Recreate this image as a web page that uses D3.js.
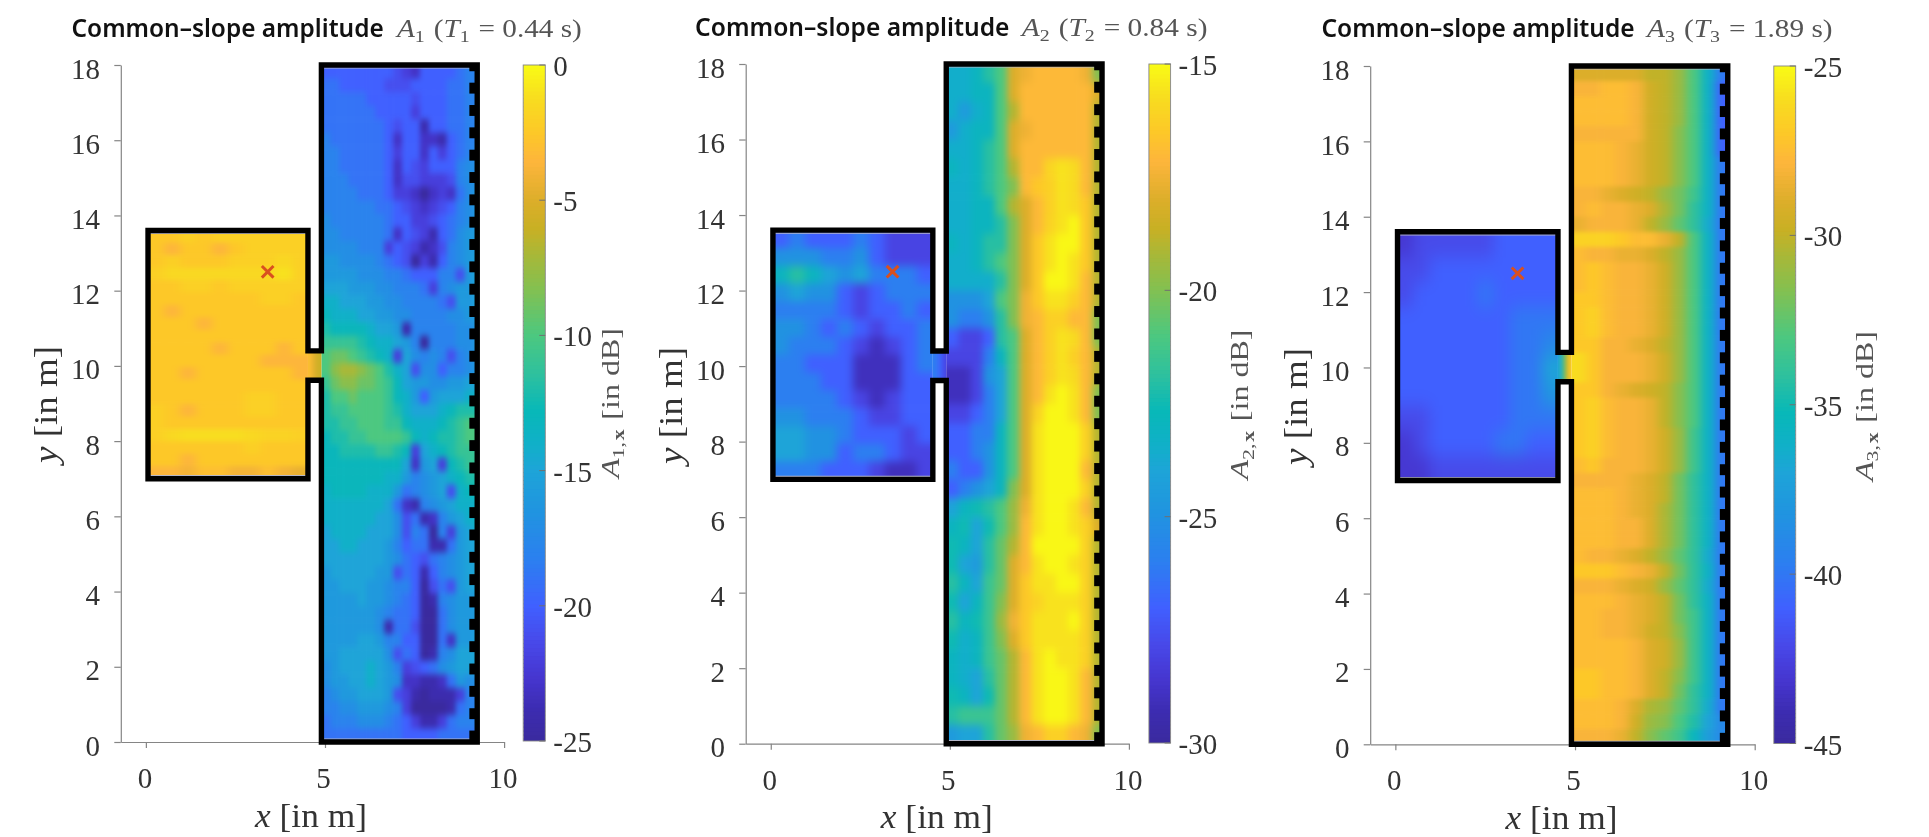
<!DOCTYPE html>
<meta charset="utf-8">
<script src="https://d3js.org/d3.v7.min.js"></script>
<style>
  html, body { margin: 0; padding: 0; background: #fff; overflow: hidden; }
  svg { display: block; filter: blur(0.45px); }
</style>
<div id="chart"></div>
<script>
// Tick labels
const yTicks = [0, 2, 4, 6, 8, 10, 12, 14, 16, 18]
const xTicks = [0, 5, 10]
const barTicks = [[0, -5, -10, -15, -20, -25], [-15, -20, -25, -30], [-25, -30, -35, -40, -45]]
const barRanges = [[-25, 0], [-30, -15], [-45, -25]]
const slopeTimes = ["0.44", "0.84", "1.89"]
const sourceX = [3.4]
const sourceY = [12.5]

// Amplitudes in dB. Rows run from top to bottom of the room.
const bigRoom1 = [
  [-20,-20,-20,-20,-20,-20,-20,-20,-21,-22,-23,-20,-20,-20,-20,-19,-18,-18],
  [-19,-19,-20,-20,-20,-20,-20,-21,-21,-21,-20,-20,-20,-20,-19,-19,-18,-18],
  [-19,-19,-19,-19,-19,-20,-20,-20,-20,-20,-21,-20,-20,-20,-19,-19,-18,-18],
  [-19,-19,-19,-19,-19,-19,-20,-20,-20,-20,-22,-20,-20,-20,-19,-19,-18,-18],
  [-19,-19,-19,-19,-19,-19,-19,-20,-21,-20,-20,-24,-20,-20,-19,-19,-18,-18],
  [-18,-19,-19,-19,-19,-19,-19,-20,-23,-20,-20,-23,-23,-24,-20,-19,-18,-18],
  [-18,-18,-19,-19,-19,-19,-19,-20,-22,-20,-20,-23,-20,-22,-20,-19,-18,-17],
  [-18,-18,-19,-19,-19,-19,-19,-20,-23,-20,-21,-22,-20,-20,-20,-18,-17,-17],
  [-18,-18,-18,-19,-19,-19,-19,-20,-23,-21,-21,-22,-22,-22,-21,-18,-17,-17],
  [-18,-18,-18,-18,-19,-19,-19,-20,-22,-22,-23,-25,-23,-22,-23,-19,-17,-16],
  [-18,-18,-18,-18,-18,-18,-19,-19,-20,-21,-22,-23,-22,-21,-20,-18,-17,-16],
  [-17,-18,-18,-18,-18,-18,-18,-19,-20,-20,-22,-22,-21,-20,-19,-18,-17,-16],
  [-17,-17,-18,-18,-18,-18,-18,-19,-23,-20,-21,-22,-24,-20,-19,-17,-16,-16],
  [-17,-17,-17,-17,-18,-18,-18,-22,-20,-21,-22,-24,-23,-21,-18,-17,-16,-16],
  [-16,-16,-17,-17,-17,-17,-18,-19,-20,-21,-25,-22,-24,-20,-18,-17,-16,-15],
  [-16,-16,-16,-16,-17,-17,-17,-18,-18,-19,-20,-20,-20,-18,-18,-21,-16,-15],
  [-15,-15,-15,-16,-16,-16,-17,-17,-18,-18,-18,-19,-22,-18,-17,-16,-16,-15],
  [-14,-14,-15,-15,-15,-16,-16,-17,-17,-18,-18,-18,-18,-19,-21,-16,-16,-15],
  [-13,-14,-14,-14,-15,-15,-16,-16,-17,-17,-18,-18,-18,-18,-17,-17,-16,-16],
  [-12,-13,-13,-13,-13,-14,-15,-15,-16,-24,-18,-18,-18,-18,-18,-17,-17,-16],
  [-11,-11,-11,-11,-12,-13,-14,-14,-15,-16,-18,-25,-18,-18,-18,-17,-17,-16],
  [-10,-9,-9,-10,-11,-12,-13,-14,-22,-15,-17,-18,-17,-18,-21,-18,-17,-16],
  [-10,-8,-7,-7,-8,-9,-10,-12,-14,-15,-21,-17,-17,-20,-18,-18,-17,-16],
  [-11,-9,-8,-8,-9,-9,-10,-11,-13,-15,-16,-16,-17,-17,-16,-16,-15,-15],
  [-12,-10,-10,-9,-10,-10,-10,-11,-13,-14,-16,-20,-16,-15,-15,-15,-14,-14],
  [-12,-11,-11,-10,-10,-10,-10,-11,-12,-14,-15,-15,-15,-14,-13,-12,-12,-12],
  [-12,-12,-11,-11,-10,-10,-10,-11,-11,-13,-14,-14,-14,-13,-12,-11,-10,-10],
  [-13,-12,-12,-11,-11,-10,-10,-10,-10,-11,-13,-14,-13,-12,-12,-11,-10,-10],
  [-13,-13,-12,-12,-12,-12,-11,-11,-12,-13,-22,-15,-14,-13,-12,-11,-11,-11],
  [-13,-13,-13,-13,-13,-13,-13,-13,-13,-15,-23,-16,-15,-22,-13,-12,-11,-11],
  [-13,-13,-13,-13,-13,-13,-13,-14,-14,-16,-18,-17,-16,-15,-14,-13,-12,-12],
  [-14,-13,-13,-13,-13,-14,-14,-14,-16,-19,-18,-17,-16,-15,-21,-14,-13,-13],
  [-14,-14,-14,-14,-14,-14,-14,-15,-19,-23,-24,-18,-17,-16,-15,-14,-14,-14],
  [-14,-14,-14,-14,-14,-14,-15,-15,-17,-21,-19,-24,-23,-18,-16,-15,-14,-14],
  [-15,-14,-14,-14,-14,-15,-15,-15,-17,-21,-18,-19,-25,-18,-22,-16,-15,-14],
  [-15,-15,-14,-14,-15,-15,-15,-16,-18,-20,-19,-19,-24,-24,-19,-16,-15,-15],
  [-15,-15,-15,-15,-15,-15,-15,-16,-17,-19,-20,-21,-19,-18,-17,-16,-15,-15],
  [-16,-15,-15,-15,-15,-15,-16,-16,-21,-19,-20,-24,-20,-18,-17,-16,-15,-15],
  [-16,-16,-15,-15,-15,-16,-16,-17,-18,-18,-20,-25,-21,-19,-21,-16,-15,-15],
  [-16,-16,-16,-16,-15,-16,-16,-17,-18,-19,-20,-25,-24,-18,-17,-16,-16,-16],
  [-16,-16,-16,-16,-16,-16,-17,-18,-19,-19,-20,-25,-25,-19,-17,-16,-16,-16],
  [-16,-16,-16,-16,-16,-16,-17,-24,-19,-19,-21,-25,-25,-19,-17,-16,-16,-16],
  [-16,-16,-16,-16,-15,-15,-16,-18,-18,-20,-20,-25,-25,-19,-23,-16,-16,-15],
  [-16,-16,-15,-15,-15,-15,-15,-17,-21,-19,-20,-25,-24,-18,-17,-15,-15,-15],
  [-17,-16,-15,-15,-15,-14,-15,-16,-18,-22,-21,-20,-19,-17,-16,-15,-15,-15],
  [-17,-16,-16,-15,-15,-14,-15,-16,-17,-23,-23,-24,-24,-23,-19,-16,-17,-17],
  [-18,-17,-16,-16,-15,-15,-15,-16,-21,-22,-24,-25,-24,-24,-24,-22,-18,-18],
  [-18,-18,-17,-17,-16,-16,-16,-17,-18,-22,-25,-25,-25,-25,-24,-19,-18,-18],
  [-19,-18,-18,-18,-17,-17,-17,-18,-19,-20,-22,-24,-24,-22,-19,-18,-18,-18],
  [-19,-19,-19,-19,-19,-19,-19,-19,-19,-20,-20,-20,-20,-19,-19,-19,-19,-19]
]
const smallRoom1 = [
  [-2.5,-2.5,-2,-2.5,-2,-2,-2,-2,-2,-2],
  [-2.5,-3.5,-2.5,-2.5,-3.5,-2.5,-2,-2,-2,-2],
  [-2.5,-2,-2.5,-2.5,-2.5,-2,-2,-2,-1.5,-2],
  [-2,-1.5,-1.5,-1.5,-1.5,-1.5,-1.5,-1.5,-1,-2],
  [-2.5,-2.5,-2,-2,-2.5,-2,-2,-2,-2,-2],
  [-2.5,-2.5,-2.5,-2.5,-2.5,-2.5,-2.5,-2,-2,-2.5],
  [-2.5,-3.5,-2.5,-2.5,-2.5,-2.5,-2.5,-2.5,-2.5,-2.5],
  [-2.5,-2.5,-2.5,-3.5,-2.5,-2.5,-2.5,-2.5,-2.5,-2.5],
  [-2.5,-2.5,-2.5,-2.5,-2.5,-2.5,-2.5,-2.5,-2.5,-2.5],
  [-2.5,-2.5,-2.5,-2.5,-3.5,-2.5,-2.5,-2.5,-3.5,-2.5],
  [-2.5,-2.5,-2.5,-2.5,-2.5,-2.5,-2.5,-3.5,-3.5,-3.5],
  [-2.5,-2.5,-3.5,-2.5,-2.5,-2.5,-2.5,-2.5,-2.5,-3.5],
  [-2.5,-2.5,-2.5,-2.5,-2.5,-2.5,-2.5,-2.5,-2.5,-2.5],
  [-2.5,-2.5,-2.5,-2.5,-2.5,-2.5,-2,-2,-2.5,-2.5],
  [-2,-2.5,-3.5,-2.5,-2.5,-2.5,-2,-2,-2.5,-2.5],
  [-2,-2.5,-2.5,-2.5,-2.5,-2.5,-2.5,-2.5,-2.5,-2.5],
  [-2,-1.5,-1.2,-1.2,-1.2,-1.2,-1.5,-1.8,-1.8,-2],
  [-2.5,-2.5,-2.5,-2.5,-2.5,-2.5,-2,-2.5,-2.5,-2.5],
  [-2.5,-2.5,-3.5,-2.5,-2.5,-2.5,-2.5,-2.5,-2.5,-2.5],
  [-3.5,-3.5,-4,-3,-3,-4,-4,-3,-4,-4.5]
]
const door1 = [[-3, -4.5, -5.5, -6]]

const bigRoom2 = [
  [-23.5,-23.5,-23,-22,-21,-18,-17.5,-17,-17,-17,-17,-17.5,-20],
  [-23.5,-23.5,-23,-23,-21,-18,-17,-17,-17,-17,-17,-17,-18],
  [-23.5,-24.5,-23.5,-23,-21,-19,-17,-17,-17,-17,-17,-17,-19],
  [-24.5,-23.5,-23,-23,-21,-18,-17.5,-17,-17,-17,-17,-17,-19],
  [-23.5,-23.5,-23,-22,-21,-18,-17,-17,-17,-17,-17,-17,-19],
  [-23,-23.5,-23,-22,-21,-19,-17,-17,-16,-15.6,-15.8,-17,-19],
  [-23.5,-23.5,-23,-22,-21,-20,-17,-16.5,-16.2,-15.6,-15.8,-17,-19],
  [-23.5,-23.5,-23,-23,-21,-19,-18,-17,-16.2,-15.6,-15.8,-16.5,-19],
  [-23.5,-23.5,-23,-23,-22,-20,-18,-17,-16.1,-15.6,-15.1,-16.5,-19],
  [-23,-23.5,-23,-22,-22,-20,-18,-16.5,-15.6,-15.1,-15.1,-16.5,-19],
  [-23.5,-23.5,-23,-22,-21,-20,-18,-16.5,-15.6,-15.1,-15.6,-16.5,-19],
  [-23.5,-23.5,-23.5,-23.5,-22,-20,-18,-16.5,-15.1,-15.1,-15.6,-17,-19],
  [-25,-25,-25,-24,-21,-20,-17.5,-16.5,-15.6,-15.6,-16.2,-17,-19],
  [-25,-26,-26,-25,-22,-20,-17.5,-17,-16.2,-16.2,-17,-17,-20],
  [-27,-28,-28,-27,-22,-21,-18,-17,-16.2,-15.6,-15.8,-17,-20],
  [-28,-28,-28,-26,-23,-21,-18,-17,-16.2,-15.6,-16.2,-17,-19],
  [-29,-29,-28,-25,-24,-21,-18,-17,-16.2,-15.6,-15.8,-17,-19],
  [-29,-29,-28,-26,-24,-21,-18,-17,-15.6,-15.1,-15.6,-17,-20],
  [-28,-28,-27,-26,-24,-21,-18,-16.1,-15.1,-15.1,-15.6,-17,-20],
  [-27,-27,-26,-26,-23,-21,-18,-15.6,-15.1,-15.1,-15.1,-16.2,-19],
  [-27,-27,-26,-25,-23,-21,-18,-15.6,-15.1,-15.1,-15.1,-16.2,-19],
  [-26,-27,-27,-25,-23,-21,-18,-15.6,-15.1,-15.1,-15.1,-17,-19],
  [-27,-26,-25,-24,-23,-20,-18,-15.6,-15.1,-15.1,-15.1,-16.2,-19],
  [-24,-23,-22.5,-22,-21,-19.5,-17.5,-15.6,-15.1,-15.1,-15.6,-17,-19],
  [-23,-22.5,-24,-22.5,-21,-19.5,-17,-15.6,-15.1,-15.1,-15.6,-16.2,-18],
  [-22.5,-23,-24,-22,-20.5,-19,-17,-15.1,-15.1,-15.1,-15.1,-16.2,-19],
  [-22.5,-24,-24.5,-22,-20.5,-18,-17,-15.6,-15.1,-15.1,-15.6,-16.2,-19],
  [-22,-23,-24,-21.5,-20.5,-18,-16.5,-15.6,-15.6,-15.1,-15.1,-16.2,-19],
  [-22.5,-24,-23,-21.5,-20,-18,-16.5,-16.1,-15.6,-15.6,-15.6,-16.2,-19],
  [-22,-23,-22.5,-21.5,-19.5,-17.5,-16.5,-15.6,-15.6,-15.6,-15.1,-16.2,-19],
  [-22.5,-23.5,-23,-21.5,-20,-18,-16.5,-15.6,-15.6,-15.6,-15.6,-16.2,-19],
  [-23,-23.5,-23,-21.5,-20.5,-19,-17,-15.6,-15.1,-15.6,-15.6,-16.2,-19],
  [-23,-23.5,-24,-22,-20.5,-19,-17,-15.6,-15.1,-15.1,-15.6,-17,-19],
  [-22.5,-23,-24,-22.5,-20.5,-19,-17,-15.6,-15.1,-15.1,-15.6,-17,-19],
  [-22,-21.5,-21.5,-21.5,-20.5,-19,-17,-15.6,-15.1,-15.1,-15.6,-17,-19],
  [-24.5,-24,-24,-22,-20.5,-19.5,-17.5,-17,-16.2,-16.2,-17,-17.5,-20]
]
const smallRoom2 = [
  [-27,-26,-27,-27,-27,-26,-27,-28,-28,-28],
  [-25,-25,-25,-26,-26,-25,-27,-28,-28,-28],
  [-23,-22,-23,-24,-25,-24,-26,-26,-26,-27],
  [-25,-24,-25,-25,-27,-28,-27,-26,-26,-26],
  [-26,-26,-26,-26,-27,-28,-27,-27,-26,-27],
  [-25,-25,-26,-27,-26,-27,-28,-27,-27,-26],
  [-25,-26,-26,-26,-27,-28,-29,-28,-27,-26],
  [-26,-26,-27,-27,-27,-29,-29,-29,-27,-26],
  [-26,-26,-26,-27,-27,-29,-29,-29,-27,-27],
  [-26,-26,-26,-26,-27,-28,-29,-28,-27,-27],
  [-25,-25,-26,-26,-26,-27,-28,-28,-27,-27],
  [-24,-24,-25,-25,-26,-27,-27,-27,-28,-27],
  [-24,-24,-25,-25,-27,-26,-26,-27,-28,-28],
  [-26,-26,-26,-27,-27,-27,-28,-29,-29,-28]
]
const door2 = [[-26, -26.5, -27, -28]]

const bigRoom3 = [
  [-29,-29,-29,-29,-29,-30,-30,-31,-33,-36,-40],
  [-28,-28,-27.5,-27.5,-28,-29.5,-30,-31,-33,-36,-41],
  [-27.5,-27.5,-27.5,-27.5,-28,-29.5,-30,-31,-33,-36,-41],
  [-27.5,-27.5,-27.5,-27.5,-28,-29.5,-30,-31,-33,-36,-41],
  [-28,-28,-28,-28,-28,-29.5,-30,-31.5,-33,-36,-41],
  [-27.5,-27.5,-27.5,-28,-28.5,-29.5,-30,-31.5,-33,-36,-41],
  [-27.5,-27.5,-27.5,-28,-28.5,-29.5,-30,-31.5,-33,-36,-40],
  [-27.5,-27.5,-27.5,-28,-28.5,-29.5,-30,-31.5,-33,-36,-40],
  [-28,-28,-28.5,-29,-29.5,-30,-31,-32,-33.5,-36,-40],
  [-28,-27.5,-28,-28,-28.5,-29,-30.5,-32,-34,-36,-40],
  [-28.5,-28,-28,-28,-28.5,-30,-31,-32.5,-34,-36.5,-40],
  [-26.5,-26.5,-26.5,-27,-27.5,-27.5,-28.5,-30,-33,-36,-40],
  [-27.5,-28,-28,-28.5,-28.5,-29,-30,-31,-33,-36,-40],
  [-27.5,-27,-27.5,-28,-28,-28.5,-29.5,-31,-33,-36,-40],
  [-27.5,-27,-27.5,-28,-28,-28.5,-29.5,-31,-33,-36,-40],
  [-27,-27,-27.5,-28,-28,-28.5,-29.5,-31,-33,-36,-40],
  [-27,-26.5,-27.5,-28,-28,-28.5,-29.5,-31,-33,-36,-40],
  [-27,-26.5,-27.5,-28,-28,-28.5,-29.5,-31,-33,-36,-40],
  [-27,-27,-28,-28,-28.5,-29,-30,-31,-33,-36,-40],
  [-26,-27,-28,-28,-28,-28.5,-29.5,-31,-33,-36,-40],
  [-26,-27,-28,-28,-28,-28.5,-29.5,-31,-33,-36,-40],
  [-27,-27,-28,-28.5,-29,-29.5,-30,-31.5,-33,-36,-40],
  [-27,-26.5,-27.5,-28,-28,-28.5,-30,-31.5,-33,-36,-40],
  [-27,-26.5,-27.5,-28,-28,-28.5,-30,-31.5,-33,-36,-40],
  [-27,-26.5,-27.5,-28,-28,-28.5,-29.5,-31,-33.5,-36,-40],
  [-27,-26.5,-27.5,-28,-28,-28.5,-29.5,-31,-33.5,-36,-40],
  [-27.5,-27,-28,-28,-28,-28.5,-29.5,-31,-33.5,-36,-40],
  [-28,-28,-28,-28,-28.5,-29,-30,-32,-34,-36,-40],
  [-27.5,-27.5,-27.5,-28,-28.5,-29,-30,-32,-34,-36,-40],
  [-27.5,-27.5,-27.5,-28,-28.5,-29,-30.5,-32,-34,-36,-40],
  [-27.5,-27.5,-27.5,-28,-28,-29,-30.5,-32,-34,-36,-40],
  [-27.5,-27.5,-27.5,-28,-28,-29,-30.5,-32,-34,-36,-40],
  [-27.5,-28,-28,-28.5,-29,-30,-31,-32.5,-34,-36.5,-40],
  [-27,-27,-27,-27.5,-28,-28.5,-30,-32,-34,-36,-40],
  [-28,-28,-28,-28.5,-29,-29.5,-31,-32.5,-34,-36.5,-40],
  [-27.5,-27.5,-27.5,-28,-28.5,-29,-30,-32,-34,-36,-40],
  [-27.5,-27.5,-28,-28,-28.5,-29,-30,-32,-33.5,-36,-40],
  [-27.5,-27.5,-28,-28,-28.5,-29.5,-30,-31.5,-33.5,-36,-40],
  [-27.5,-27.5,-27.5,-27.5,-28,-29,-29.5,-31,-33.5,-36,-40],
  [-27.5,-27.5,-27.5,-27.5,-28,-29,-29.5,-31,-33.5,-36,-40],
  [-27,-27,-27.5,-27.5,-28,-29,-30,-31.5,-33.5,-36,-40],
  [-27,-27,-27.5,-27.5,-28,-29,-30,-32,-34,-36,-40],
  [-27.5,-27.5,-27.5,-28,-29,-30.5,-31,-32.5,-34,-36.5,-40],
  [-27.5,-27.5,-27.5,-28,-29.5,-31,-31.5,-33,-34.5,-37,-39],
  [-28,-28,-28,-28.5,-30,-31.5,-32.5,-33.5,-35.5,-37.5,-39]
]
const smallRoom3 = [
  [-43,-42,-42,-42,-42,-42,-41,-41,-41,-41],
  [-42,-42,-41,-41,-41,-41,-41,-41,-41,-41],
  [-42,-41,-41,-41,-41,-40,-41,-41,-41,-41],
  [-41,-41,-41,-41,-41,-41,-41,-40,-40,-40],
  [-41,-41,-41,-41,-41,-41,-41,-40,-40,-39],
  [-41,-41,-41,-41,-41,-41,-41,-40,-40,-37],
  [-41,-41,-41,-41,-41,-41,-41,-40,-40,-38],
  [-42,-42,-41,-41,-41,-41,-41,-40,-40,-40],
  [-43,-42,-41,-41,-41,-41,-40,-40,-41,-41],
  [-43,-43,-42,-42,-42,-42,-42,-42,-42,-42]
]
const door3 = [[-37, -34, -30, -27]]

const bigRooms = [bigRoom1, bigRoom2, bigRoom3]
const smallRooms = [smallRoom1, smallRoom2, smallRoom3]
const doors = [door1, door2, door3]

// Room outline in metres
const outline = [[4.525,9.62],[4.525,7],[0.06,7],[0.06,13.6],[4.525,13.6],[4.525,10.4],[4.9,10.4],
                 [4.9,18],[9.25,18],[9.25,0],[4.9,0],[4.9,9.62]]

// Panel placement in page pixels
const panels = [
  {left: 120.8, right: 504.1, top: 65, bottom: 742, barL: 523.2, barR: 545.3, barB: 741, barLabel: 618.6, barMid: 403,
   yLab: 57, xLab: 311, xBase: 826.7, t1: 71.5, t1w: 312.3, t2: 396.9, t2w: 185, tBase: 37,
   gridEnd: 9.4, softBig: "2.8 3.3", softSmall: "5 2.5"},
  {left: 745.7, right: 1128.9, top: 64, bottom: 743.7, barL: 1148.9, barR: 1170.6, barB: 743, barLabel: 1248.4, barMid: 404.5,
   yLab: 682, xLab: 936.8, xBase: 828, t1: 695.1, t1w: 314.4, t2: 1021.8, t2w: 185.7, tBase: 36,
   gridEnd: 9.32, softBig: "3.6 4.4", softSmall: "4.5 4.5"},
  {left: 1370.2, right: 1754.7, top: 66, bottom: 744.3, barL: 1773.8, barR: 1795.7, barB: 743.5, barLabel: 1872.7, barMid: 406,
   yLab: 1307, xLab: 1561.5, xBase: 829, t1: 1321.4, t1w: 313.3, t2: 1647.1, t2w: 185.5, tBase: 37,
   gridEnd: 9.3, softBig: "5 2.2", softSmall: "7 9"}
]

// Colour map
const parula = d3.scaleLinear()
  .domain([0, 0.046, 0.095, 0.144, 0.2, 0.267, 0.34, 0.4, 0.44, 0.49, 0.54, 0.6, 0.67, 0.72, 0.758, 0.8, 0.857, 0.9, 0.95, 1])
  .range(["#3a2a9e", "#3c2cb0", "#4636d0", "#4848e8", "#4060ff", "#2c7ff0", "#2094e0", "#1ea4d8", "#10b0c8", "#08b8b8",
          "#2cc0a0", "#4cc880", "#84c050", "#a8b838", "#c8b024", "#dcae2a", "#fdb53c", "#fdc828", "#f8dc20", "#f9fb15"])
  .clamp(true)

const ink = "#333"
const serif = "'Liberation Serif', serif"

const svg = d3.select("#chart").append("svg").attr("width", 1929).attr("height", 837)
const defs = svg.append("defs")

// Writes runs of text into a text element, each run is [string, style]
function addRuns(text, runs, size) {
  runs.forEach(([s, style]) => {
    const t = text.append("tspan").text(s)
    if (style && style.includes("i")) t.style("font-style", "italic")
    if (style && style.includes("b")) t.style("font-weight", "bold")
    if (style && style.includes("s")) {
      t.attr("font-size", size * 0.68).style("font-size", size * 0.68 + "px").attr("dy", size * 0.2)
      text.append("tspan").style("font-size", size * 0.68 + "px").attr("dy", -size * 0.2).text("\u200a")
    }
  })
}

// Squeezes a text element to a wanted length
function fit(text, x, y, length, rotated) {
  const k = length / text.node().getComputedTextLength()
  text.attr("transform", `translate(${x},${y})` + (rotated ? " rotate(-90)" : "") + ` scale(${k},1)`)
}

function drawGrid(parent, rows, x0, x1, y0, y1, clip, x, y, color, soft, id) {
  const w = (x1 - x0) / rows[0].length
  const h = (y1 - y0) / rows.length
  const cells = rows.flatMap((r, i) => r.map((v, j) => ({i, j, v})))
  const nr = rows.length, nc = rows[0].length

  const f = defs.append("filter").attr("id", "soft" + id)
    .attr("x", "-10%").attr("y", "-10%").attr("width", "120%").attr("height", "120%")
    .attr("color-interpolation-filters", "sRGB")
  f.append("feGaussianBlur").attr("stdDeviation", soft)

  defs.append("clipPath").attr("id", "clip" + id).append("rect")
    .attr("x", x(clip[0])).attr("y", y(clip[3]))
    .attr("width", x(clip[1]) - x(clip[0])).attr("height", y(clip[2]) - y(clip[3]))

  parent.append("g").attr("clip-path", `url(#clip${id})`)
    .append("g").attr("filter", `url(#soft${id})`)
    .selectAll("rect").data(cells).join("rect")
      // outer cells run past the room so the blur does not fade at the walls
      .attr("x", d => x(x0 + d.j * w - (d.j == 0 ? 1 : 0)))
      .attr("y", d => y(y1 - d.i * h + (d.i == 0 ? 1 : 0)))
      .attr("width", d => x(x0 + (d.j + 1) * w + (d.j == nc - 1 ? 1 : 0)) - x(x0 + d.j * w - (d.j == 0 ? 1 : 0)) + 0.6)
      .attr("height", d => y(y1 - (d.i + 1) * h - (d.i == nr - 1 ? 1 : 0)) - y(y1 - d.i * h + (d.i == 0 ? 1 : 0)) + 0.6)
      .attr("fill", d => color(d.v))
}

panels.forEach((p, n) => {
  const x = d3.scaleLinear().domain([-0.7, 10]).range([p.left, p.right])
  const y = d3.scaleLinear().domain([0, 18]).range([p.bottom, p.top])
  const [lo, hi] = barRanges[n]
  const color = v => parula((v - lo) / (hi - lo))
  const g = svg.append("g")

  drawGrid(g, smallRooms[n], 0.06, 4.525, 7, 13.6, [0.06, 4.525, 7, 13.6], x, y, color, p.softSmall, `s${n}`)
  drawGrid(g, bigRooms[n], 4.9, p.gridEnd, 0, 18, [4.9, 9.25, 0, 18], x, y, color, p.softBig, `b${n}`)
  drawGrid(g, doors[n], 4.525, 4.9, 9.62, 10.4, [4.525, 4.9, 9.62, 10.4], x, y, color, "2.5 1", `d${n}`)

  // pale edge seen just inside the top and bottom walls
  const edges = [[0.06, 4.525, 13.6, 3], [0.06, 4.525, 7, -3], [4.9, 9.05, 18, 3], [4.9, 9.05, 0, -3]]
  g.selectAll("line.edge").data(edges).join("line").attr("class", "edge")
    .attr("x1", d => x(d[0])).attr("x2", d => x(d[1]))
    .attr("y1", d => y(d[2]) + d[3]).attr("y2", d => y(d[2]) + d[3])
    .attr("stroke", "#b4b6c8").attr("stroke-width", 1.2)

  // axes
  const yAxis = g.append("g").attr("transform", `translate(${p.left},0)`)
    .call(d3.axisLeft(y).tickValues(yTicks).tickSize(6.5).tickSizeOuter(0))
  const xAxis = g.append("g").attr("transform", `translate(0,${p.bottom})`)
    .call(d3.axisBottom(x).tickValues(xTicks).tickSize(6).tickSizeOuter(0))
  for (const a of [yAxis, xAxis]) {
    a.selectAll("path,line").attr("stroke", "#858585").attr("stroke-width", 1.2)
    a.selectAll("text").attr("fill", ink).style("font-family", serif).style("font-size", "29px")
  }
  yAxis.selectAll("text").attr("x", null).attr("dy", null)
    .attr("text-anchor", "end").attr("transform", "translate(-20.8,13)")
  xAxis.selectAll("text").attr("y", null).attr("dy", null)
    .attr("text-anchor", "middle").attr("transform", d => `translate(${d == 5 ? -2 : -1.5},46)`)

  // walls
  const line = d3.line().x(d => x(d[0])).y(d => y(d[1])).curve(d3.curveLinearClosed)
  g.append("path").attr("d", line(outline)).attr("fill", "none")
    .attr("stroke", "#000").attr("stroke-width", 5.4).attr("stroke-linejoin", "miter")

  // teeth along the right hand wall
  const teeth = d3.range(-1, 30).map(k => 17.53 - k * 0.594)
  g.selectAll("rect.tooth").data(teeth).join("rect").attr("class", "tooth")
    .attr("x", x(9.03)).attr("width", x(9.25) - x(9.03))
    .attr("y", d => y(Math.min(d, 18))).attr("height", d => y(d - 0.29) - y(Math.min(d, 18)))
    .attr("fill", "#000")

  // source position
  g.selectAll("path.source").data(sourceX).join("path").attr("class", "source")
    .attr("d", d3.symbol(d3.symbolTimes, 90))
    .attr("transform", (d, i) => `translate(${x(d)},${y(sourceY[i])})`)
    .attr("fill", "none").attr("stroke", "#d9501f").attr("stroke-width", 3)

  // colour bar
  const barY = d3.scaleLinear().domain([lo, hi]).range([p.barB, p.top])
  const shades = d3.range(0, 171).map(i => lo + (hi - lo) * i / 170)
  defs.append("clipPath").attr("id", `barClip${n}`).append("rect")
    .attr("x", p.barL).attr("y", p.top).attr("width", p.barR - p.barL).attr("height", p.barB - p.top)
  g.append("g").attr("clip-path", `url(#barClip${n})`)
    .selectAll("rect").data(shades).join("rect")
    .attr("x", p.barL).attr("width", p.barR - p.barL)
    .attr("y", d => barY(d) - 2.5).attr("height", 5)
    .attr("fill", color)
  g.append("rect").attr("x", p.barL).attr("y", p.top).attr("width", p.barR - p.barL).attr("height", p.barB - p.top)
    .attr("fill", "none").attr("stroke", "#858585").attr("stroke-width", 0.9)
  g.selectAll("line.barTick").data(barTicks[n]).join("line").attr("class", "barTick")
    .attr("x1", p.barR - 6).attr("x2", p.barR).attr("y1", d => barY(d)).attr("y2", d => barY(d))
    .attr("stroke", "#707070").attr("stroke-width", 1)
  g.selectAll("text.barLabel").data(barTicks[n]).join("text").attr("class", "barLabel")
    .text(d => d)
    .attr("fill", ink).style("font-family", serif).style("font-size", "29px")
    .attr("transform", d => `translate(${p.barR + 8},${barY(d) + 11})`)

  // axis titles
  const xTitle = g.append("text").attr("fill", ink).style("font-family", serif).style("font-size", "34px")
  addRuns(xTitle, [["x", "i"], [" [in m]", ""]], 34)
  fit(xTitle, p.xLab - 56, p.xBase, 112)

  const yTitle = g.append("text").attr("fill", ink).style("font-family", serif).style("font-size", "34px")
  addRuns(yTitle, [["y", "i"], [" [in m]", ""]], 34)
  fit(yTitle, p.yLab, 463 + n, 117, true)

  const barTitle = g.append("text").attr("fill", "#555").style("font-family", serif).style("font-size", "26px")
  addRuns(barTitle, [["A", "i"], [`${n + 1},`, "s"], ["x", "bs"], [" [in dB]", ""]], 26)
  fit(barTitle, p.barLabel, p.barMid + 75, 150, true)

  // panel title
  const title = g.append("text").attr("fill", "#111")
    .style("font-family", "'Noto Sans', sans-serif").style("font-weight", 600).style("font-size", "26px")
    .text("Common\u2013slope amplitude")
  fit(title, p.t1, p.tBase, p.t1w)

  const math = g.append("text").attr("fill", "#555").style("font-family", serif).style("font-size", "26px")
  addRuns(math, [["A", "i"], [`${n + 1}`, "s"], [" (", ""], ["T", "i"], [`${n + 1}`, "s"], [` = ${slopeTimes[n]} s)`, ""]], 26)
  fit(math, p.t2, p.tBase, p.t2w)
})
</script>
